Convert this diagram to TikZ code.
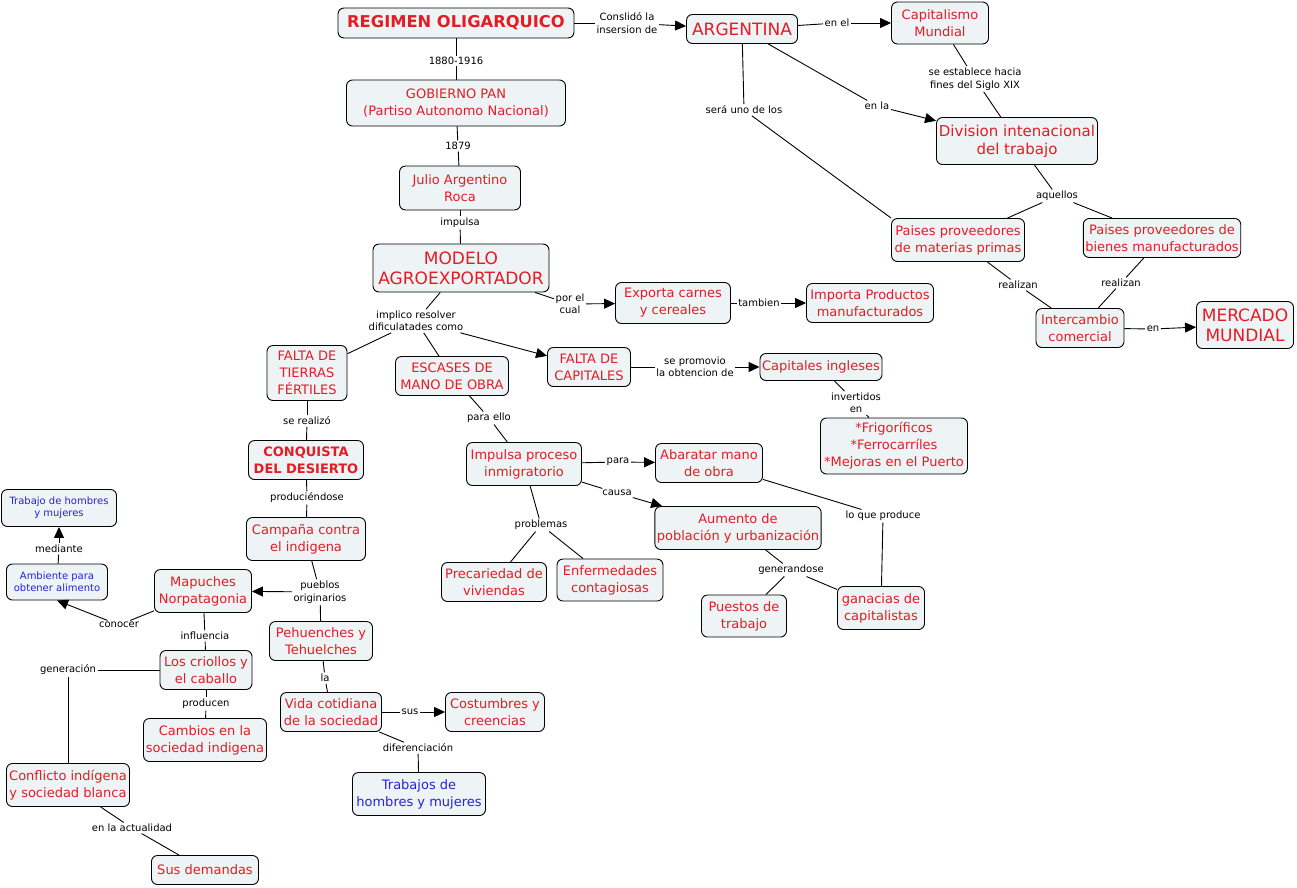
\documentclass[tikz,border=0pt]{standalone}
\usepackage{fontspec}
\setmainfont{DejaVu Sans}
\usetikzlibrary{arrows.meta}

\definecolor{cmapred}{RGB}{228,28,36}
\definecolor{cmapblue}{RGB}{36,36,214}
\definecolor{cmapfill}{RGB}{238,243,245}

\begin{document}
\begin{tikzpicture}[x=1pt,y=-1pt,
		concept/.style={draw, rounded corners=6pt, fill=cmapfill, text=cmapred, align=center, inner sep=2pt, line width=0.9pt, font=\fontsize{13}{17}\selectfont},
		bigconcept/.style={concept, font=\fontsize{17}{20}\selectfont},
		blueconcept/.style={concept, text=cmapblue},
		linkword/.style={align=center, inner sep=1.5pt, font=\fontsize{10}{12.5}\selectfont},
		conn/.style={line width=0.9pt},
		arr/.style={conn, -{Triangle[length=11pt,width=10pt]}}]
	\useasboundingbox (0,0) rectangle (1297,887);

	\node[concept, font=\fontsize{16.3}{19}\selectfont\bfseries, minimum width=236pt, minimum height=30pt] (regimen) at (456,23) {REGIMEN OLIGARQUICO};
	\node[bigconcept, minimum width=111pt, minimum height=29pt] (argentina) at (742,29) {ARGENTINA};
	\node[concept, minimum width=97pt, minimum height=42pt] (capitalismo) at (940,23) {Capitalismo\\Mundial};
	\node[concept, font=\fontsize{15}{18}\selectfont, minimum width=161pt, minimum height=47pt] (division) at (1017,141) {Division intenacional\\del trabajo};
	\node[concept, minimum width=133pt, minimum height=43pt] (materias) at (958,240) {Paises proveedores\\de materias primas};
	\node[concept, minimum width=157pt, minimum height=39pt] (bienes) at (1162,238) {Paises proveedores de\\bienes manufacturados};
	\node[concept, minimum width=88pt, minimum height=39pt] (intercambio) at (1080,328) {Intercambio\\comercial};
	\node[bigconcept, minimum width=97pt, minimum height=47pt] (mercado) at (1245,325) {MERCADO\\MUNDIAL};
	\node[concept, minimum width=219pt, minimum height=46pt] (gobierno) at (456,103) {GOBIERNO PAN\\(Partiso Autonomo Nacional)};
	\node[concept, minimum width=121pt, minimum height=44pt] (roca) at (460,188) {Julio Argentino\\Roca};
	\node[bigconcept, minimum width=176pt, minimum height=48pt] (modelo) at (461,268) {MODELO\\AGROEXPORTADOR};
	\node[concept, minimum width=115pt, minimum height=41pt] (exporta) at (673,303) {Exporta carnes\\y cereales};
	\node[concept, minimum width=127pt, minimum height=39pt] (importa) at (870,303) {Importa Productos\\manufacturados};
	\node[concept, minimum width=80pt, minimum height=55pt] (tierras) at (307,373) {FALTA DE\\TIERRAS\\FÉRTILES};
	\node[concept, minimum width=113pt, minimum height=39pt] (escases) at (452,376) {ESCASES DE\\MANO DE OBRA};
	\node[concept, minimum width=83pt, minimum height=39pt] (capitales) at (589,367) {FALTA DE\\CAPITALES};
	\node[concept, minimum width=122pt, minimum height=27pt] (ingleses) at (821,367) {Capitales ingleses};
	\node[concept, minimum width=147pt, minimum height=56pt] (frigo) at (894,446) {*Frigoríficos\\*Ferrocarríles\\*Mejoras en el Puerto};
	\node[concept, font=\fontsize{13}{17}\selectfont\bfseries, minimum width=115pt, minimum height=39pt] (conquista) at (306,460) {CONQUISTA\\DEL DESIERTO};
	\node[concept, minimum width=115pt, minimum height=43pt] (inmigra) at (524,464) {Impulsa proceso\\inmigratorio};
	\node[concept, minimum width=107pt, minimum height=39pt] (abaratar) at (709,463) {Abaratar mano\\de obra};
	\node[concept, minimum width=165pt, minimum height=43pt] (aumento) at (738,528) {Aumento de\\población y urbanización};
	\node[concept, minimum width=105pt, minimum height=39pt] (precariedad) at (494,582) {Precariedad de\\viviendas};
	\node[concept, minimum width=106pt, minimum height=42pt] (enfermedades) at (610,580) {Enfermedades\\contagiosas};
	\node[concept, minimum width=85pt, minimum height=42pt] (puestos) at (744,616) {Puestos de\\trabajo};
	\node[concept, minimum width=87pt, minimum height=43pt] (ganancias) at (881,608) {ganacias de\\capitalistas};
	\node[blueconcept, font=\fontsize{10}{12}\selectfont, minimum width=115pt, minimum height=37pt] (trabajo) at (59,508) {Trabajo de hombres\\y mujeres};
	\node[blueconcept, font=\fontsize{10}{12}\selectfont, minimum width=101pt, minimum height=36pt] (ambiente) at (57,582) {Ambiente para\\obtener alimento};
	\node[concept, minimum width=119pt, minimum height=43pt] (campana) at (306,539) {Campaña contra\\el indigena};
	\node[concept, minimum width=97pt, minimum height=43pt] (mapuches) at (203,591) {Mapuches\\Norpatagonia};
	\node[concept, minimum width=103pt, minimum height=39pt] (pehuenches) at (321,641) {Pehuenches y\\Tehuelches};
	\node[concept, minimum width=92pt, minimum height=39pt] (criollos) at (206,670) {Los criollos y\\el caballo};
	\node[concept, minimum width=123pt, minimum height=43pt] (cambios) at (205,740) {Cambios en la\\sociedad indigena};
	\node[concept, minimum width=101pt, minimum height=39pt] (vida) at (331,712) {Vida cotidiana\\de la sociedad};
	\node[concept, minimum width=99pt, minimum height=39pt] (costumbres) at (495,712) {Costumbres y\\creencias};
	\node[blueconcept, minimum width=133pt, minimum height=43pt] (trabajos) at (419,794) {Trabajos de\\hombres y mujeres};
	\node[concept, minimum width=123pt, minimum height=43pt] (conflicto) at (68,785) {Conflicto indígena\\y sociedad blanca};
	\node[concept, minimum width=107pt, minimum height=29pt] (demandas) at (205,870) {Sus demandas};

	\node[linkword] (l1880) at (456,61) {1880-1916};
	\node[linkword] (lconslido) at (627,23) {Conslidó la\\insersion de};
	\node[linkword] (lenel) at (837,23) {en el};
	\node[linkword] (lestablece) at (975,79) {se establece hacia\\fines del Siglo XIX};
	\node[linkword] (lenla) at (877,106) {en la};
	\node[linkword] (lsera) at (744,110) {será uno de los};
	\node[linkword] (laquellos) at (1057,196) {aquellos};
	\node[linkword] (lrealizanA) at (1018,285) {realizan};
	\node[linkword] (lrealizanB) at (1121,283) {realizan};
	\node[linkword] (len) at (1153,329) {en};
	\node[linkword] (l1879) at (458,146) {1879};
	\node[linkword] (limpulsa) at (460,223) {impulsa};
	\node[linkword] (lporel) at (570,304) {por el\\cual};
	\node[linkword] (limplico) at (416,321) {implico resolver\\dificulatades como};
	\node[linkword] (ltambien) at (759,303) {tambien};
	\node[linkword] (lpromovio) at (695,367) {se promovio\\la obtencion de};
	\node[linkword] (linvertidos) at (856,403) {invertidos\\en};
	\node[linkword] (lrealizo) at (307,421) {se realizó};
	\node[linkword] (lparaello) at (489,418) {para ello};
	\node[linkword] (lpara) at (618,462) {para};
	\node[linkword] (lcausa) at (617,493) {causa};
	\node[linkword] (lproduce) at (883,516) {lo que produce};
	\node[linkword] (lproblemas) at (541,525) {problemas};
	\node[linkword] (lgenerandose) at (791,570) {generandose};
	\node[linkword] (lproduciendose) at (307,498) {produciéndose};
	\node[linkword] (lmediante) at (59,549) {mediante};
	\node[linkword] (lpueblos) at (320,592) {pueblos\\originarios};
	\node[linkword] (lconocer) at (119,625) {conocer};
	\node[linkword] (linfluencia) at (205,636) {influencia};
	\node[linkword] (lgeneracion) at (68,670) {generación};
	\node[linkword] (lla) at (325,678) {la};
	\node[linkword] (lproducen) at (206,704) {producen};
	\node[linkword] (lsus) at (410,712) {sus};
	\node[linkword] (ldiferenciacion) at (418,748) {diferenciación};
	\node[linkword] (lactualidad) at (132,828) {en la actualidad};

	\draw[conn] (regimen) -- (l1880);
	\draw[conn] (l1880) -- (gobierno);
	\draw[conn] (regimen) -- (lconslido);
	\draw[arr] (lconslido) -- (argentina);
	\draw[conn] (argentina) -- (lenel);
	\draw[arr] (lenel) -- (capitalismo);
	\draw[conn] (capitalismo) -- (lestablece);
	\draw[conn] (lestablece) -- (division);
	\draw[conn] (argentina) -- (lenla);
	\draw[arr] (lenla) -- (division);
	\draw[conn] (argentina) -- (lsera);
	\draw[conn] (lsera) -- (materias.north west);
	\draw[conn] (division) -- (laquellos);
	\draw[conn] (laquellos) -- (materias);
	\draw[conn] (laquellos) -- (bienes);
	\draw[conn] (materias) -- (lrealizanA);
	\draw[conn] (lrealizanA) -- (intercambio);
	\draw[conn] (bienes) -- (lrealizanB);
	\draw[conn] (lrealizanB) -- (intercambio);
	\draw[conn] (intercambio) -- (len);
	\draw[arr] (len) -- (mercado);
	\draw[conn] (gobierno) -- (l1879);
	\draw[conn] (l1879) -- (roca);
	\draw[conn] (roca) -- (limpulsa);
	\draw[conn] (limpulsa) -- (modelo);
	\draw[conn] (modelo) -- (lporel);
	\draw[arr] (lporel) -- (exporta);
	\draw[conn] (exporta) -- (ltambien);
	\draw[arr] (ltambien) -- (importa);
	\draw[conn] (modelo) -- (limplico);
	\draw[conn] (limplico) -- (tierras);
	\draw[conn] (limplico) -- (escases);
	\draw[arr] (limplico) -- (capitales);
	\draw[conn] (capitales) -- (lpromovio);
	\draw[arr] (lpromovio) -- (ingleses);
	\draw[conn] (ingleses) -- (linvertidos);
	\draw[conn] (linvertidos) -- (frigo);
	\draw[conn] (tierras) -- (lrealizo);
	\draw[conn] (lrealizo) -- (conquista);
	\draw[conn] (escases) -- (lparaello);
	\draw[conn] (lparaello) -- (inmigra);
	\draw[conn] (inmigra) -- (lpara);
	\draw[arr] (lpara) -- (abaratar);
	\draw[conn] (inmigra) -- (lcausa);
	\draw[arr] (lcausa) -- (aumento);
	\draw[conn] (abaratar) -- (lproduce);
	\draw[conn] (lproduce) -- (ganancias);
	\draw[conn] (inmigra) -- (lproblemas);
	\draw[conn] (lproblemas) -- (precariedad);
	\draw[conn] (lproblemas) -- (enfermedades);
	\draw[conn] (aumento) -- (lgenerandose);
	\draw[conn] (lgenerandose) -- (puestos);
	\draw[conn] (lgenerandose) -- (ganancias);
	\draw[conn] (conquista) -- (lproduciendose);
	\draw[conn] (lproduciendose) -- (campana);
	\draw[conn] (campana) -- (lpueblos);
	\draw[arr] (lpueblos) -- (mapuches);
	\draw[conn] (lpueblos) -- (pehuenches);
	\draw[conn] (mapuches) -- (lconocer);
	\draw[arr] (lconocer) -- (ambiente.south);
	\draw[conn] (ambiente) -- (lmediante);
	\draw[arr] (lmediante) -- (trabajo);
	\draw[conn] (mapuches) -- (linfluencia);
	\draw[conn] (linfluencia) -- (criollos);
	\draw[conn] (criollos) -- (lgeneracion);
	\draw[conn] (lgeneracion) -- (conflicto);
	\draw[conn] (criollos) -- (lproducen);
	\draw[conn] (lproducen) -- (cambios);
	\draw[conn] (pehuenches) -- (lla);
	\draw[conn] (lla) -- (vida);
	\draw[conn] (vida) -- (lsus);
	\draw[arr] (lsus) -- (costumbres);
	\draw[conn] (vida) -- (ldiferenciacion);
	\draw[conn] (ldiferenciacion) -- (trabajos);
	\draw[conn] (conflicto) -- (lactualidad);
	\draw[conn] (lactualidad) -- (demandas);
\end{tikzpicture}
\end{document}
